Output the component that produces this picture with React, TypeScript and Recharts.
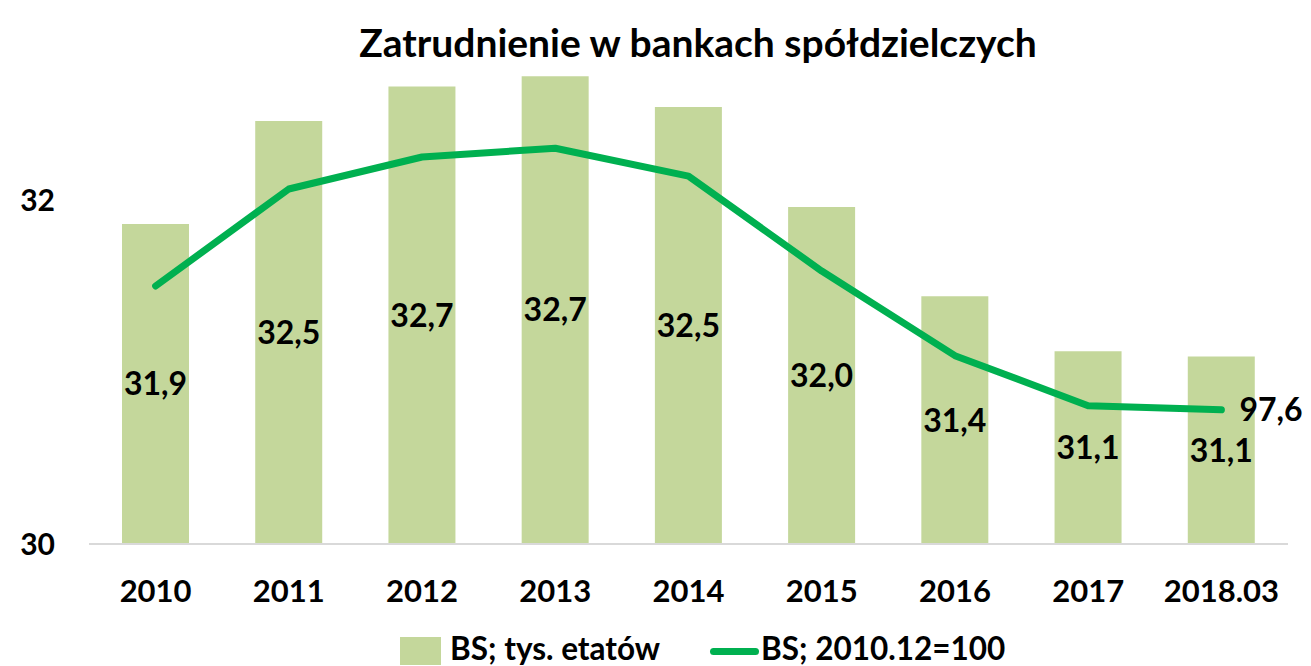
import React from "react";
import {
  ComposedChart,
  Bar,
  Line,
  XAxis,
  YAxis,
  Legend,
  LabelList,
} from "recharts";

const categories = ["2010", "2011", "2012", "2013", "2014", "2015", "2016", "2017", "2018.03"];
const employment = [31.86, 32.46, 32.66, 32.72, 32.54, 31.96, 31.44, 31.12, 31.09];
const indexValues = [100, 101.88, 102.5, 102.67, 102.13, 100.29, 98.65, 97.68, 97.6];
const leftTicks = [30, 32];

const barName = "BS; tys. etatów";
const lineName = "BS; 2010.12=100";

const data = categories.map((c, i) => ({
  cat: c,
  bar: employment[i],
  line: indexValues[i],
}));

const FONT = "Lato, 'DejaVu Sans', sans-serif";
const BAR_COLOR = "#C4D79B";
const LINE_COLOR = "#00B050";

const fmt = (v: any) => Number(v).toFixed(1).replace(".", ",");

const LastLabel = (props: any) => {
  const { x, y, index, value } = props;
  if (index !== data.length - 1) return null;
  return (
    <text
      x={x + 18}
      y={y}
      dy="0.36em"
      textAnchor="start"
      fontFamily={FONT}
      fontWeight={700}
      fontSize={32}
      fill="#000"
    >
      {fmt(value)}
    </text>
  );
};

const LegendContent = () => (
  <div
    style={{
      position: "relative",
      height: 36,
      fontFamily: FONT,
      fontWeight: 700,
      fontSize: 31.5,
      color: "#000",
    }}
  >
    <div style={{ position: "absolute", left: 400, top: 7, width: 41, height: 28, background: BAR_COLOR }} />
    <div style={{ position: "absolute", left: 450, top: 0, lineHeight: "36px", whiteSpace: "nowrap" }}>{barName}</div>
    <div
      style={{
        position: "absolute",
        left: 710,
        top: 18,
        width: 49,
        height: 7,
        borderRadius: 4,
        background: LINE_COLOR,
      }}
    />
    <div style={{ position: "absolute", left: 761, top: 0, lineHeight: "36px", whiteSpace: "nowrap" }}>{lineName}</div>
  </div>
);

export default function App() {
  return (
    <div style={{ position: "absolute", left: 0, top: 0, width: 1311, height: 666, background: "#fff" }}>
      <ComposedChart
        width={1311}
        height={666}
        data={data}
        margin={{ top: 28, right: 23, bottom: 0, left: 0 }}
      >
        <XAxis
          dataKey="cat"
          tickLine={false}
          tickSize={0}
          tickMargin={36}
          height={86}
          axisLine={{ stroke: "#D9D9D9", strokeWidth: 2 }}
          tick={{ fontFamily: FONT, fontWeight: 700, fontSize: 31, fill: "#000" }}
          interval={0}
        />
        <YAxis
          yAxisId="left"
          width={89}
          domain={[30, 33]}
          ticks={leftTicks}
          axisLine={false}
          tickLine={false}
          tickSize={0}
          tickMargin={34}
          allowDataOverflow
          tick={{ fontFamily: FONT, fontWeight: 700, fontSize: 30, fill: "#000" }}
        />
        <YAxis yAxisId="right" orientation="right" domain={[95, 105]} hide allowDataOverflow />
        <Legend verticalAlign="bottom" height={36} content={<LegendContent />} />
        <Bar yAxisId="left" dataKey="bar" name={barName} fill={BAR_COLOR} barSize={67} isAnimationActive={false}>
          <LabelList
            dataKey="bar"
            position="center"
            formatter={fmt}
            style={{ fontFamily: FONT, fontWeight: 700, fontSize: 32, fill: "#000" }}
          />
        </Bar>
        <Line
          yAxisId="right"
          dataKey="line"
          name={lineName}
          stroke={LINE_COLOR}
          strokeWidth={7}
          strokeLinecap="round"
          strokeLinejoin="round"
          dot={false}
          activeDot={false}
          isAnimationActive={false}
        >
          <LabelList dataKey="line" content={<LastLabel />} />
        </Line>
      </ComposedChart>
      <div
        style={{
          position: "absolute",
          left: 0,
          top: 17,
          width: 1396,
          textAlign: "center",
          fontFamily: FONT,
          fontWeight: 700,
          fontSize: 39,
          lineHeight: "50px",
          color: "#000",
          whiteSpace: "nowrap",
        }}
      >
        Zatrudnienie w bankach spółdzielczych
      </div>
    </div>
  );
}
